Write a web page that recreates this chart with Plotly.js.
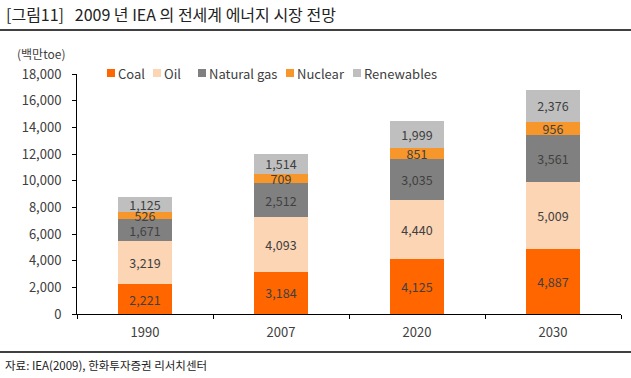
<!DOCTYPE html>
<html><head><meta charset="utf-8">
<script src="https://cdn.plot.ly/plotly-3.0.1.min.js"></script>
<style>html,body{margin:0;padding:0;background:#fff}#c{width:631px;height:378px}</style>
</head><body><div id="c"></div>
<script>
const years = ['1990','2007','2020','2030'];
const coal = [2221,3184,4125,4887];
const oil = [3219,4093,4440,5009];
const gas = [1671,2512,3035,3561];
const nuclear = [526,709,851,956];
const renewables = [1125,1514,1999,2376];
const seriesNames = ['Coal','Oil','Natural gas','Nuclear','Renewables'];
const seriesColors = ['#FF6600','#FCD5B5','#808080','#F7962B','#BFBFBF'];
const yTicks = [0,2000,4000,6000,8000,10000,12000,14000,16000,18000];

const FONT = 'Malgun Gothic, "Noto Sans CJK KR", sans-serif';
const TXT = '#404040';
const vals = [coal, oil, gas, nuclear, renewables];
const traces = vals.map((v,i)=>({
  type:'bar', x:years, y:v, name:seriesNames[i],
  marker:{color:seriesColors[i], line:{width:0}},
  text:v.map(n=>n.toLocaleString('en-US')), textposition:'inside',
  insidetextanchor:'middle', constraintext:'none',
  textfont:{family:FONT, size:12.5, color:TXT},
  hoverinfo:'none', showlegend:false
}));

const L=77, R=621, T=74, B=314;
const pw=R-L, ph=B-T;
const px = x => (x-L)/pw;
const py = y => (B-y)/ph;

// legend drawn as squares + labels (layout positions in pixels)
const legendX = [107,153,198,286,353];
const legendShapes = seriesNames.map((n,i)=>({type:'rect', xref:'paper', yref:'paper',
  x0:px(legendX[i]), x1:px(legendX[i]+8), y0:py(77), y1:py(69),
  fillcolor:seriesColors[i], line:{width:0}}));
const legendAnn = seriesNames.map((n,i)=>({xref:'paper', yref:'paper', x:px(legendX[i]+9), y:py(73.5),
  xanchor:'left', yanchor:'middle', showarrow:false, text:n,
  font:{family:FONT, size:13, color:TXT}}));

const layout = {
  width:631, height:378,
  margin:{l:L, r:631-R, t:T, b:378-B},
  barmode:'stack', bargap:0.6,
  paper_bgcolor:'#fff', plot_bgcolor:'#fff',
  font:{family:FONT, size:12, color:TXT},
  showlegend:false,
  xaxis:{type:'category', showline:true, linecolor:'#000', linewidth:1,
    ticks:'outside', ticklen:4, tickcolor:'#000', tickson:'boundaries', ticklabelstandoff:6,
    tickfont:{family:FONT, size:13, color:TXT}, showgrid:false, zeroline:false, fixedrange:true},
  yaxis:{range:[0,18000], tickvals:yTicks, ticktext:yTicks.map(n=>n.toLocaleString('en-US')),
    showline:true, linecolor:'#000', linewidth:1, ticks:'outside', ticklen:4, tickcolor:'#000',
    ticklabelstandoff:8,
    tickfont:{family:FONT, size:13, color:TXT}, showgrid:false, zeroline:false, fixedrange:true},
  shapes:[
    {type:'line', xref:'paper', yref:'paper', x0:px(0), x1:px(631), y0:py(30), y1:py(30), line:{color:'#000', width:1.5}},
    {type:'line', xref:'paper', yref:'paper', x0:px(0), x1:px(631), y0:py(352), y1:py(352), line:{color:'#000', width:1.5}}
  ].concat(legendShapes),
  annotations:[
    {xref:'paper', yref:'paper', x:px(4), y:py(14), xanchor:'left', yanchor:'middle', showarrow:false,
      text:'[그림11]   2009 년 IEA 의 전세계 에너지 시장 전망', font:{family:FONT, size:16, color:'#222'}},
    {xref:'paper', yref:'paper', x:px(15), y:py(53), xanchor:'left', yanchor:'middle', showarrow:false,
      text:'(백만toe)', font:{family:FONT, size:12, color:TXT}},
    {xref:'paper', yref:'paper', x:px(3), y:py(365), xanchor:'left', yanchor:'middle', showarrow:false,
      text:'자료: IEA(2009), 한화투자증권 리서치센터', font:{family:FONT, size:11.5, color:'#222'}}
  ].concat(legendAnn)
};
Plotly.newPlot('c', traces, layout, {displayModeBar:false, staticPlot:true});
</script></body></html>
